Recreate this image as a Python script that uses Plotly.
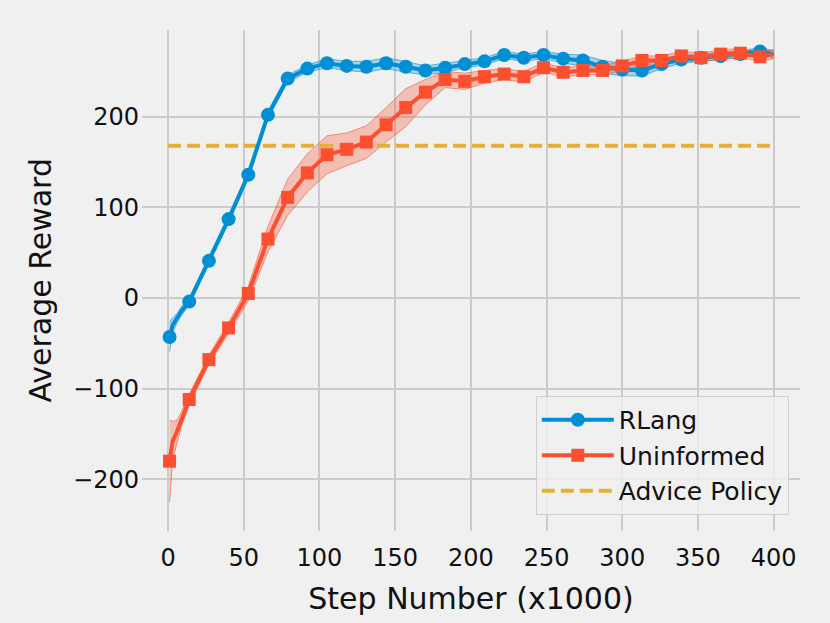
import plotly.graph_objects as go

# Step numbers (x1000): dense points read near the start, then every 13 (marker positions), then end
steps = [1, 3, 6, 9, 14, 27, 40, 53, 66, 79, 92, 105, 118, 131, 144, 157, 170, 183, 196,
         209, 222, 235, 248, 261, 274, 287, 300, 313, 326, 339, 352, 365, 378, 391, 400]
marker_steps = [1, 14, 27, 40, 53, 66, 79, 92, 105, 118, 131, 144, 157, 170, 183, 196,
                209, 222, 235, 248, 261, 274, 287, 300, 313, 326, 339, 352, 365, 378, 391]

rlang = [-43, -30, -22, -14, -4, 41, 87, 136, 202, 242, 253, 259, 256, 255, 259, 255, 251, 254, 258,
         261, 268, 265, 268, 264, 262, 255, 252, 251, 258, 263, 265, 267, 269, 272, 269]
rlang_spread = [16, 8, 5, 5, 4, 4, 4, 4, 4, 4, 4, 5, 5, 6, 6, 6, 5, 5, 4,
                4, 4, 4, 4, 5, 6, 7, 7, 6, 5, 4, 4, 4, 4, 4, 4]

uninformed = [-180, -158, -147, -133, -112, -68, -33, 5, 65, 111, 138, 158, 164, 172, 191, 210, 227, 241, 239,
              244, 247, 244, 254, 249, 251, 251, 256, 262, 262, 267, 265, 269, 270, 266, 269]
uninformed_spread = [45, 22, 12, 8, 6, 5, 6, 8, 14, 20, 21, 21, 18, 18, 19, 21, 14, 9, 9,
                     7, 6, 6, 5, 5, 5, 5, 5, 5, 5, 5, 5, 5, 5, 5, 5]

advice_x = [0, 400]
advice_value = [168, 168]

x_ticks = [0, 50, 100, 150, 200, 250, 300, 350, 400]
y_ticks = [-200, -100, 0, 100, 200]

BLUE = "#008fd5"
RED = "#fc4f30"
YELLOW = "#e5ae38"
BG = "#f0f0f0"
FONT = "DejaVu Sans"


def sel(xs):
    return [i for i, v in enumerate(xs) if v in marker_steps]


def band(y, s, color):
    up = [a + b for a, b in zip(y, s)]
    lo = [a - b for a, b in zip(y, s)]
    return [
        go.Scatter(x=steps, y=up, mode="lines", line=dict(width=0.6, color=color),
                   opacity=0.35, showlegend=False, hoverinfo="skip"),
        go.Scatter(x=steps, y=lo, mode="lines", line=dict(width=0.6, color=color),
                   fill="tonexty", fillcolor=color.replace("rgb", "rgba").replace(")", ",0.3)"),
                   showlegend=False, hoverinfo="skip", opacity=1),
    ]


fig = go.Figure()
for t in band(rlang, rlang_spread, "rgb(0,143,213)"):
    fig.add_trace(t)
for t in band(uninformed, uninformed_spread, "rgb(252,79,48)"):
    fig.add_trace(t)

fig.add_trace(go.Scatter(
    x=advice_x, y=advice_value, mode="lines", name="Advice Policy",
    line=dict(color=YELLOW, width=4, dash="13px,6px"), legendrank=3))

fig.add_trace(go.Scatter(
    x=steps, y=rlang, mode="lines+markers", name="RLang",
    line=dict(color=BLUE, width=4),
    marker=dict(symbol="circle", size=14, color=BLUE),
    selectedpoints=sel(steps), unselected=dict(marker=dict(opacity=0)),
    legendrank=1))

fig.add_trace(go.Scatter(
    x=steps, y=uninformed, mode="lines+markers", name="Uninformed",
    line=dict(color=RED, width=4),
    marker=dict(symbol="square", size=13, color=RED),
    selectedpoints=sel(steps), unselected=dict(marker=dict(opacity=0)),
    legendrank=2))

axis_common = dict(showgrid=True, gridcolor="#cbcbcb", gridwidth=1.6, zeroline=False,
                   showline=False, ticks="", tickfont=dict(family=FONT, size=24, color="#111"))

fig.update_layout(
    width=830, height=623,
    paper_bgcolor=BG, plot_bgcolor=BG,
    margin=dict(l=142, r=30, t=30, b=92, autoexpand=False),
    font=dict(family=FONT, color="#111"),
    xaxis=dict(range=[-17.2, 417.4], tickvals=x_ticks, ticklabelstandoff=10,
               title=dict(text="Step Number (x1000)", font=dict(family=FONT, size=30), standoff=16),
               automargin=False, **axis_common),
    yaxis=dict(range=[-257, 295.6], tickvals=y_ticks, ticklabelstandoff=2,
               automargin=False, **axis_common),
    annotations=[dict(text="Average Reward", xref="paper", yref="paper",
                      x=-0.155, y=0.5, xanchor="center", yanchor="middle",
                      textangle=-90, showarrow=False,
                      font=dict(family=FONT, size=30, color="#111"))],
    legend=dict(x=0.983, y=0.032, xanchor="right", yanchor="bottom",
                bgcolor="rgba(240,240,240,0.8)", bordercolor="#d0d0d0", borderwidth=1,
                font=dict(family=FONT, size=25, color="#111"), itemwidth=72,
                traceorder="normal"),
    showlegend=True,
)

fig.write_html("out.html", config={"displayModeBar": False},
               post_script="document.body.style.margin='0';document.body.style.background='#f0f0f0';")
